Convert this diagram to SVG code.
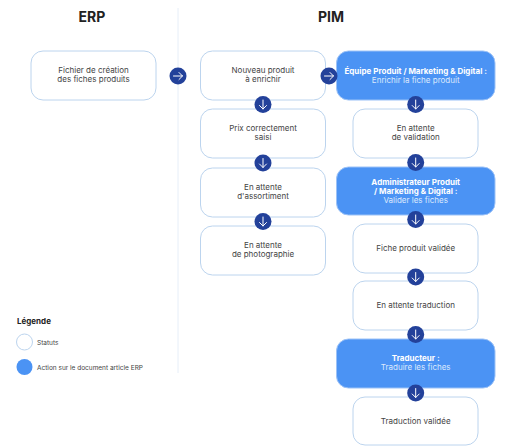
<svg xmlns="http://www.w3.org/2000/svg" width="513" height="446" viewBox="0 0 513 446">
<defs>
<style>
.box{fill:#fff;stroke:#bcd4ee;stroke-width:1}
.act{fill:#4b93f4;stroke:#9cc2f7;stroke-width:1}
.t{font-family:Inter,"Liberation Sans",sans-serif;font-size:8px;fill:#444;text-anchor:middle}
.tb{font-family:Inter,"Liberation Sans",sans-serif;font-size:8px;fill:#fff;font-weight:700;text-anchor:middle}
.tl{font-family:Inter,"Liberation Sans",sans-serif;font-size:8px;fill:#dce9fd;text-anchor:middle}
.h{font-family:Inter,"Liberation Sans",sans-serif;font-size:14px;font-weight:700;fill:#222;text-anchor:middle}
.c{fill:#23419a}
.ar{fill:none;stroke:#fff;stroke-width:1;stroke-linecap:round;stroke-linejoin:round}
.leg{font-family:Inter,"Liberation Sans",sans-serif;font-size:6.5px;fill:#444}
</style>
<g id="down"><circle class="c" r="8.5"/><path class="ar" d="M0,-4.5V4.5M-3.5,1L0,4.5L3.5,1"/></g>
<g id="right"><circle class="c" r="8.5"/><path class="ar" d="M-4.5,0H4.5M1,-3.5L4.5,0L1,3.5"/></g>
</defs>
<rect width="513" height="446" fill="#fff"/>
<line x1="178" y1="8" x2="178" y2="373" stroke="#e6eef8" stroke-width="1"/>
<text class="h" x="92" y="22">ERP</text>
<text class="h" x="331" y="22">PIM</text>

<g id="n-erp"><rect class="box" x="31" y="51" width="125" height="49" rx="12"/>
<text class="t" x="93.5" y="73">Fichier de création</text><text class="t" x="93.5" y="82">des fiches produits</text></g>

<g id="n-nouveau"><rect class="box" x="200.5" y="51" width="125" height="49" rx="12"/>
<text class="t" x="263" y="73">Nouveau produit</text><text class="t" x="263" y="82">à enrichir</text></g>
<g id="n-prix"><rect class="box" x="200.5" y="109" width="125" height="49" rx="12"/>
<text class="t" x="263" y="131">Prix correctement</text><text class="t" x="263" y="140">saisi</text></g>
<g id="n-assort"><rect class="box" x="200.5" y="168" width="125" height="49" rx="12"/>
<text class="t" x="263" y="190">En attente</text><text class="t" x="263" y="199">d'assortiment</text></g>
<g id="n-photo"><rect class="box" x="200.5" y="226" width="125" height="49" rx="12"/>
<text class="t" x="263" y="248">En attente</text><text class="t" x="263" y="257">de photographie</text></g>

<g id="n-equipe"><rect class="act" x="336.5" y="51" width="158.5" height="49" rx="12"/>
<text class="tb" x="415.7" y="74">Équipe Produit / Marketing &amp; Digital :</text><text class="tl" x="415.7" y="83">Enrichir la fiche produit</text></g>
<g id="n-attval"><rect class="box" x="353" y="109" width="125" height="49" rx="12"/>
<text class="t" x="415.7" y="131">En attente</text><text class="t" x="415.7" y="140">de validation</text></g>
<g id="n-admin"><rect class="act" x="336.5" y="167" width="158.5" height="48" rx="12"/>
<text class="tb" x="415.7" y="185">Administrateur Produit</text><text class="tb" x="415.7" y="194">/ Marketing &amp; Digital :</text><text class="tl" x="415.7" y="203">Valider les fiches</text></g>
<g id="n-fichval"><rect class="box" x="353" y="224" width="125" height="49" rx="12"/>
<text class="t" x="415.7" y="250.5">Fiche produit validée</text></g>
<g id="n-atttrad"><rect class="box" x="353" y="281" width="125" height="49" rx="12"/>
<text class="t" x="415.7" y="308">En attente traduction</text></g>
<g id="n-trad"><rect class="act" x="336.5" y="339" width="158.5" height="49" rx="12"/>
<text class="tb" x="415.7" y="361">Traducteur :</text><text class="tl" x="415.7" y="370">Traduire les fiches</text></g>
<g id="n-tradval"><rect class="box" x="353" y="397" width="125" height="48" rx="12"/>
<text class="t" x="415.7" y="423.5">Traduction validée</text></g>

<g id="connectors">
<use href="#right" x="178" y="76"/>
<use href="#right" x="329" y="76"/>
<use href="#down" x="263" y="104.5"/>
<use href="#down" x="263" y="163"/>
<use href="#down" x="263" y="221.5"/>
<use href="#down" x="415.7" y="104.5"/>
<use href="#down" x="415.7" y="162.5"/>
<use href="#down" x="415.7" y="219.5"/>
<use href="#down" x="415.7" y="277"/>
<use href="#down" x="415.7" y="334.5"/>
<use href="#down" x="415.7" y="393"/>
</g>

<g id="legend">
<text x="17" y="324" font-family="Inter,'Liberation Sans',sans-serif" font-size="8" font-weight="700" fill="#222">Légende</text>
<circle cx="24.5" cy="342" r="8" fill="#fff" stroke="#bcd4ee"/>
<text class="leg" x="37" y="344.5">Statuts</text>
<circle cx="24.5" cy="367" r="8" fill="#4b93f4"/>
<text class="leg" x="37" y="369.5">Action sur le document article ERP</text>
</g>
</svg>
